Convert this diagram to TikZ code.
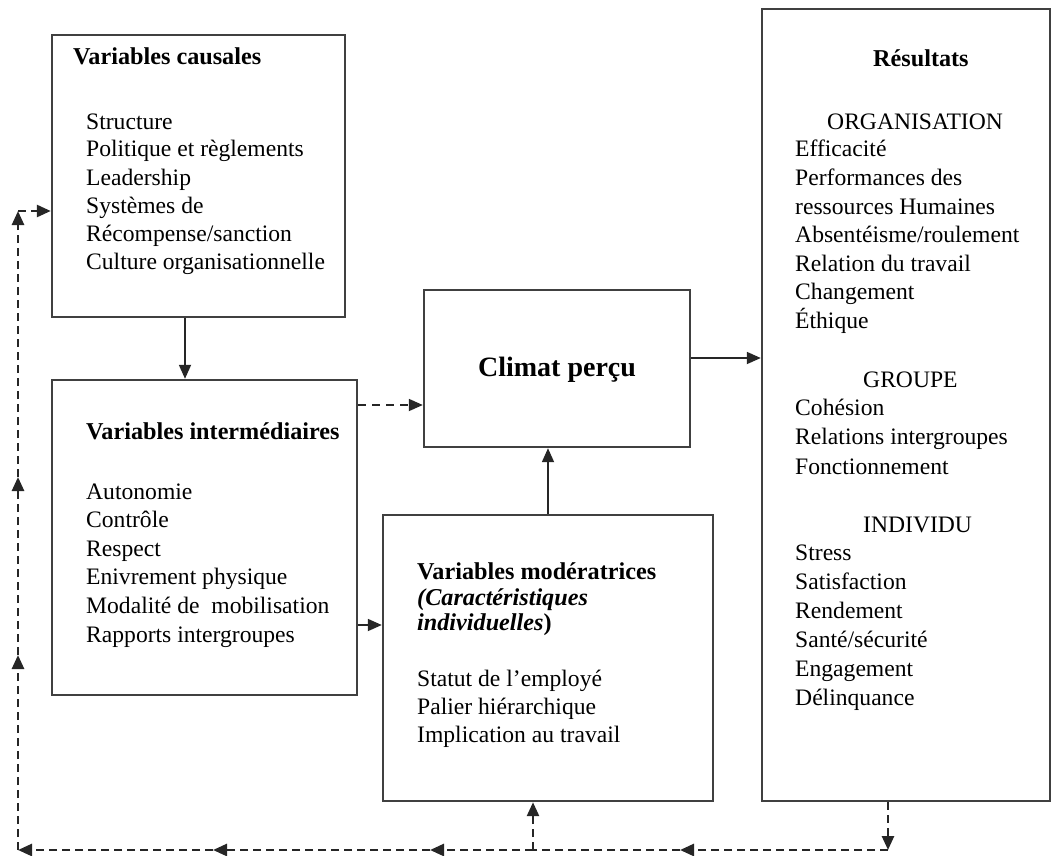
\documentclass[tikz,border=0pt]{standalone}
\usepackage{fontspec}
\setmainfont{Liberation Serif}
\usetikzlibrary{arrows.meta}
\begin{document}
\begin{tikzpicture}[x=1pt,y=-1pt,
  box/.style={draw=black!75, line width=2.4pt, inner sep=0pt},
  txt/.style={anchor=base west, inner sep=0pt, font=\fontsize{23.6}{28}\selectfont},
  head/.style={txt, font=\fontsize{24.2}{28}\selectfont\bfseries},
  link/.style={draw=black!85, line width=1.8pt, -{Triangle[length=14pt,width=12pt]}},
  feedback/.style={draw=black!85, line width=2.6pt, dash pattern=on 8pt off 5pt},
  fbarrow/.style={feedback, -{Triangle[length=14pt,width=12pt]}}]
\useasboundingbox (0,0) rectangle (1054,856);

% main boxes
\node[box, minimum width=293pt, minimum height=282pt] (cause) at (198.5,176) {};
\node[box, minimum width=305pt, minimum height=315pt] (inter) at (204.5,537.5) {};
\node[box, minimum width=266pt, minimum height=157pt] (climat) at (557,368.5) {};
\node[box, minimum width=330pt, minimum height=286pt] (moder) at (548,658) {};
\node[box, minimum width=288pt, minimum height=792pt] (result) at (906,405) {};

% causal variables
\node[head] (causeT) at (73,65) {Variables causales};
\foreach \t [count=\i] in {Structure, Politique et règlements, Leadership,
  Systèmes de, Récompense/sanction, Culture organisationnelle}
  \node[txt] (cause\i) at (86,{129+28*(\i-1)}) {\t};

% intermediate variables
\node[head] (interT) at (86,439) {Variables intermédiaires};
\foreach \t [count=\i] in {Autonomie, Contrôle, Respect, Enivrement physique,
  Modalité de\ \ mobilisation, Rapports intergroupes}
  \node[txt] (inter\i) at (86,{499+28.6*(\i-1)}) {\t};

% perceived climate
\node[inner sep=0pt, font=\fontsize{28}{32}\selectfont\bfseries] (climatT) at (557,370) {Climat perçu};

% moderating variables
\node[head] (moderT) at (417,579) {Variables modératrices};
\node[head] (moderA) at (417,605) {\itshape (Caractéristiques};
\node[head] (moderB) at (417,630) {\itshape individuelles\upshape)};
\foreach \t [count=\i] in {Statut de l'employé, Palier hiérarchique, Implication au travail}
  \node[txt] (moder\i) at (417,{686+28*(\i-1)}) {\t};

% results
\node[head] (resT) at (873,67) {Résultats};
\node[txt] (orgT) at (827,129) {ORGANISATION};
\foreach \t [count=\i] in {Efficacité, Performances des, ressources Humaines,
  Absentéisme/roulement, Relation du travail, Changement, Éthique}
  \node[txt] (org\i) at (795,{157+28.5*(\i-1)}) {\t};
\node[txt] (grpT) at (863,387) {GROUPE};
\foreach \t [count=\i] in {Cohésion, Relations intergroupes, Fonctionnement}
  \node[txt] (grp\i) at (795,{415+29.5*(\i-1)}) {\t};
\node[txt] (indT) at (863,532) {INDIVIDU};
\foreach \t [count=\i] in {Stress, Satisfaction, Rendement, Santé/sécurité,
  Engagement, Délinquance}
  \node[txt] (ind\i) at (795,{560+29*(\i-1)}) {\t};

% forward links
\draw[link] (cause.south -| 185,0) -- (inter.north -| 185,0);
\draw[link, dash pattern=on 8pt off 6pt] (inter.east |- 0,405) -- (climat.west |- 0,405);
\draw[link] (climat.east |- 0,358) -- (result.west |- 0,358);
\draw[link] (moder.north) -- (climat.south -| moder.north);
\draw[link] (inter.east |- 0,625) -- (moder.west |- 0,625);

% feedback loop
\coordinate (fbR) at (888,850);
\coordinate (fbA) at (680,850);
\coordinate (fbM) at (533,850);
\coordinate (fbB) at (430,850);
\coordinate (fbC) at (213,850);
\coordinate (fbL) at (18,850);
\coordinate (upA) at (18,655);
\coordinate (upB) at (18,477);
\coordinate (fbT) at (18,211);
\draw[fbarrow] (result.south -| fbR) -- (fbR);
\draw[fbarrow] (fbR) -- (fbA);
\draw[feedback] (fbA) -- (fbM);
\draw[fbarrow] (fbM) -- (moder.south -| fbM);
\draw[fbarrow] (fbM) -- (fbB);
\draw[fbarrow] (fbB) -- (fbC);
\draw[fbarrow] (fbC) -- (fbL);
\draw[fbarrow] (fbL) -- (upA);
\draw[fbarrow] (upA) -- (upB);
\draw[fbarrow] (upB) -- (fbT);
\draw[fbarrow] (fbT) -- (cause.west |- fbT);
\end{tikzpicture}
\end{document}
